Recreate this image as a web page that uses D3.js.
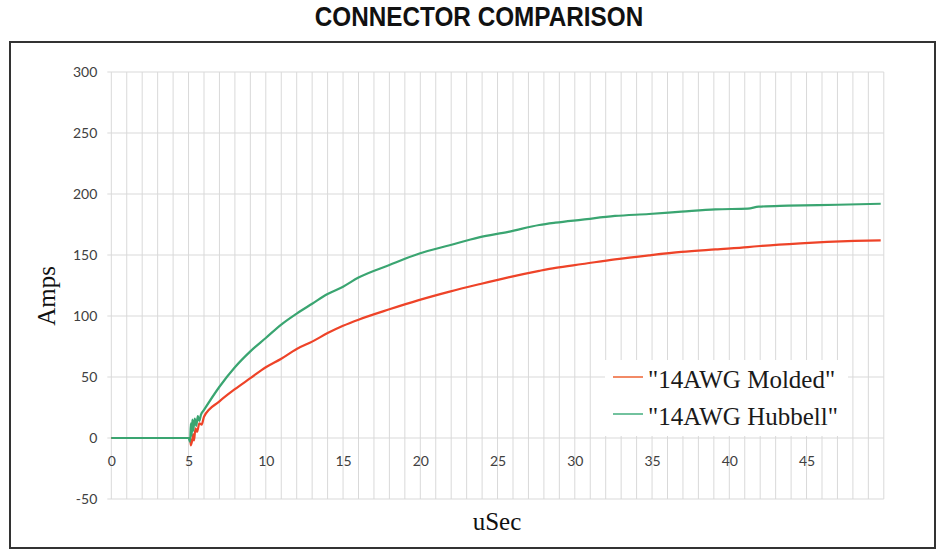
<!DOCTYPE html>
<html><head><meta charset="utf-8">
<script src="https://cdn.jsdelivr.net/npm/d3@7"></script>
<style>body{margin:0;background:#fff}svg{display:block}</style>
</head><body>
<svg id="c" width="941" height="552"></svg>
<script>
const chartTitle = "CONNECTOR COMPARISON";
const xTitle = "uSec";
const yTitle = "Amps";
const seriesNames = ['"14AWG Molded"', '"14AWG Hubbell"'];
const seriesColors = ["#ee4328", "#3aa571"];
const legendColors = ["#f28a66", "#72c29e"];
const xTicks = [0,5,10,15,20,25,30,35,40,45];
const yTicks = [-50,0,50,100,150,200,250,300];

const moldedTime = [0,5.1,5.15,5.25,5.3,5.35,5.45,5.55,5.7,5.85,6,7,8,9,10,11,12,13,14,15,16,18,19.9,21.9,23.8,25.7,27.7,28.75,30.5,32.6,34.8,36.9,39.1,41.2,42,44.6,48.1,49.8];
const moldedAmps = [0,0,-6,-1,3,-2,8,5,12,11,17.5,30,40,49,58,65,73,79,86,92,97,105.5,113,120,126,131.7,137,139.5,142.6,146.4,149.7,152.5,154.6,156.5,157.4,159.6,161.5,162];

const hubbellTime = [0,5.0,5.1,5.15,5.2,5.25,5.3,5.4,5.5,5.6,5.7,5.8,6,7,8,9,10,11,12,13,14,15,16,18,19.9,21.9,23.8,25.7,27.7,28.75,30.5,32.6,34.8,36.9,39.1,41.2,41.9,43.8,47,49.8];
const hubbellAmps = [0,0,-3,12,2,15,6,16,10,18,14,19,23,42,58,71,82,93,102,110,118,124,131.5,141.8,151,158,164.5,169,174.6,176.5,179,182,183.6,185.5,187.4,188,189.6,190.4,191.2,192];

const svg = d3.select("#c");
const x = d3.scaleLinear().domain([0,50]).range([111.3,883.8]);
const y = d3.scaleLinear().domain([-50,300]).range([499,72]);

// frame
svg.append("rect").attr("x",10).attr("y",42).attr("width",925).attr("height",506)
  .attr("fill","none").attr("stroke","#333").attr("stroke-width",2);

// title (condensed bold)
svg.append("text").attr("transform","translate(479,26) scale(0.9,1)").attr("text-anchor","middle")
  .attr("font-family","'Liberation Sans',Arial,sans-serif")
  .attr("font-weight","bold").attr("font-size",27).attr("fill","#111").text(chartTitle);

// grid
const grid = svg.append("g");
grid.selectAll("line.v").data(d3.range(0,51,1)).join("line")
  .attr("x1",d=>x(d)).attr("x2",d=>x(d)).attr("y1",y(300)).attr("y2",y(-50))
  .attr("stroke","#d9d9d9").attr("stroke-width",1);
grid.selectAll("line.h").data(yTicks).join("line")
  .attr("x1",x(0)-4).attr("x2",x(50)).attr("y1",d=>y(d)).attr("y2",d=>y(d))
  .attr("stroke","#d9d9d9").attr("stroke-width",1);

// y axis labels
const yAxis = d3.axisLeft(y).tickValues(yTicks).tickFormat(d=>String(d)).tickSize(0).tickPadding(0);
const gy = svg.append("g").attr("transform",`translate(${x(0)-14},0)`).call(yAxis);
gy.select(".domain").remove();
gy.selectAll("text").attr("font-family","Lato, 'Open Sans', sans-serif").attr("font-size",14).attr("fill","#404040");

// x axis labels
const xAxis = d3.axisBottom(x).tickValues(xTicks).tickFormat(d=>String(d)).tickSize(0).tickPadding(0);
const gx = svg.append("g").attr("transform",`translate(0,${y(0)+18})`).call(xAxis);
gx.select(".domain").remove();
gx.selectAll("text").attr("font-family","Lato, 'Open Sans', sans-serif").attr("font-size",14).attr("fill","#404040");

// axis titles
svg.append("text").attr("transform",`translate(55,296) rotate(-90)`).attr("text-anchor","middle")
  .attr("font-family","'Liberation Serif','Times New Roman',serif").attr("font-size",25).attr("fill","#111").text(yTitle);
svg.append("text").attr("x",497).attr("y",530).attr("text-anchor","middle")
  .attr("font-family","'Liberation Serif','Times New Roman',serif").attr("font-size",25).attr("fill","#111").text(xTitle);

// lines
const line = d3.line().x(d=>x(d[0])).y(d=>y(d[1])).curve(d3.curveMonotoneX);
const molded = moldedTime.map((t,i)=>[t,moldedAmps[i]]);
const hubbell = hubbellTime.map((t,i)=>[t,hubbellAmps[i]]);
svg.append("path").datum(molded).attr("d",line).attr("fill","none")
  .attr("stroke",seriesColors[0]).attr("stroke-width",2.2);
svg.append("path").datum(hubbell).attr("d",line).attr("fill","none")
  .attr("stroke",seriesColors[1]).attr("stroke-width",2.2);

// legend
const lg = svg.append("g");
lg.append("rect").attr("x",605).attr("y",360).attr("width",243).attr("height",76).attr("fill","#fff");
seriesNames.forEach((n,i)=>{
  const cy = 377 + i*37;
  lg.append("line").attr("x1",613).attr("x2",643).attr("y1",cy).attr("y2",cy)
    .attr("stroke",legendColors[i]).attr("stroke-width",2);
  lg.append("text").attr("x",648).attr("y",cy+11)
    .attr("font-family","'Liberation Serif','Times New Roman',serif").attr("font-size",25).attr("fill","#1a1a1a").text(n);
});
</script>
</body></html>
